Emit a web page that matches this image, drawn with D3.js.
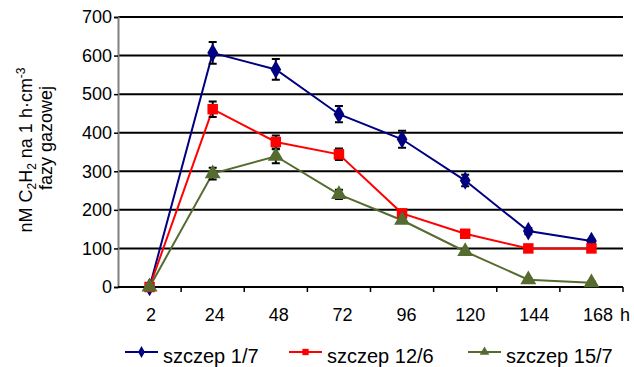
<!DOCTYPE html>
<html>
<head>
<meta charset="utf-8">
<script src="https://cdn.jsdelivr.net/npm/d3@7.9.0/dist/d3.min.js"></script>
<style>
  body { margin: 0; background: #fff; }
  svg { display: block; font-family: Arial, "Liberation Sans", sans-serif; }
</style>
</head>
<body>
<svg id="chart" width="634" height="367"></svg>
<script>
const hours = ['2', '24', '48', '72', '96', '120', '144', '168'];
const yTicks = [0, 100, 200, 300, 400, 500, 600, 700];

const strain17 = [0, 607, 564, 448, 383, 276, 145, 119];
const strain17Err = [0, 28, 27, 21, 22, 15, 8, 5];
const strain126 = [0, 461, 376, 344, 191, 138, 100, 100];
const strain126Err = [0, 20, 17, 15, 6, 5, 4, 4];
const strain157 = [0, 294, 339, 240, 173, 92, 19, 11];
const strain157Err = [0, 15, 18, 12, 6, 5, 3, 3];

const series = [
  { name: 'szczep 1/7', values: strain17, err: strain17Err, color: '#000080', symbol: d3.symbolDiamond },
  { name: 'szczep 12/6', values: strain126, err: strain126Err, color: '#ff0000', symbol: d3.symbolSquare },
  { name: 'szczep 15/7', values: strain157, err: strain157Err, color: '#556b2f', symbol: d3.symbolTriangle }
];

const svg = d3.select('#chart');
const plotL = 118, plotR = 623, plotT = 17, plotB = 287;

const x = d3.scaleBand().domain(hours).range([plotL, plotR]);
const xLabel = d3.scaleBand().domain(hours).range([119, 630]);
const y = d3.scaleLinear().domain([0, 700]).range([plotB, plotT]);
const cx = (h) => x(h) + x.bandwidth() / 2;

// gridlines
svg.append('g')
  .selectAll('line')
  .data(yTicks.filter(d => d > 0))
  .join('line')
  .attr('x1', plotL).attr('x2', plotR)
  .attr('y1', d => y(d)).attr('y2', d => y(d))
  .attr('stroke', '#000').attr('stroke-width', 2);

// y axis
const yAxis = svg.append('g')
  .attr('transform', `translate(${plotL},0)`)
  .call(d3.axisLeft(y).tickValues(yTicks).tickSize(4).tickPadding(2));
yAxis.select('.domain').attr('stroke', '#808080').attr('stroke-width', 2);
yAxis.selectAll('.tick line').attr('stroke', '#000').attr('stroke-width', 1.5);
yAxis.selectAll('text').attr('font-size', 18).attr('fill', '#000');

// x axis line with ticks on band edges
const xg = svg.append('g');
xg.append('line')
  .attr('x1', plotL).attr('x2', plotR)
  .attr('y1', plotB).attr('y2', plotB)
  .attr('stroke', '#000').attr('stroke-width', 2);
xg.selectAll('line.tk')
  .data(hours)
  .join('line')
  .attr('class', 'tk')
  .attr('x1', d => x(d) + x.bandwidth()).attr('x2', d => x(d) + x.bandwidth())
  .attr('y1', plotB).attr('y2', plotB + 5)
  .attr('stroke', '#000').attr('stroke-width', 1.5);
xg.selectAll('text')
  .data(hours)
  .join('text')
  .attr('x', d => xLabel(d) + xLabel.bandwidth() / 2)
  .attr('y', 321)
  .attr('text-anchor', 'middle')
  .attr('font-size', 18)
  .text(d => d);
svg.append('text')
  .attr('x', 620).attr('y', 321)
  .attr('font-size', 18)
  .text('h');

// y axis title
const yt = svg.append('text')
  .attr('transform', 'translate(32,150) rotate(-90)')
  .attr('text-anchor', 'middle')
  .attr('font-size', 18);
yt.append('tspan').attr('x', 0).attr('dy', 0).text('nM C');
yt.append('tspan').attr('font-size', 12).attr('dy', 4).text('2');
yt.append('tspan').attr('dy', -4).text('H');
yt.append('tspan').attr('font-size', 12).attr('dy', 4).text('2');
yt.append('tspan').attr('dy', -4).text(' na 1 h\u00b7cm');
yt.append('tspan').attr('font-size', 12).attr('dy', -7).text('-3');
svg.append('text')
  .attr('transform', 'translate(52,138) rotate(-90)')
  .attr('text-anchor', 'middle')
  .attr('font-size', 18)
  .text('fazy gazowej');

// series
const line = d3.line().x((d, i) => cx(hours[i])).y(d => y(d));

series.forEach(s => {
  svg.append('path')
    .attr('d', line(s.values))
    .attr('fill', 'none')
    .attr('stroke', s.color)
    .attr('stroke-width', 2);
});

series.forEach(s => {
  const g = svg.append('g');
  s.values.forEach((v, i) => {
    const e = s.err[i];
    if (e > 0) {
      const px = cx(hours[i]);
      g.append('path')
        .attr('d', `M${px - 4},${y(v + e)}H${px + 4}M${px},${y(v + e)}V${y(v - e)}M${px - 4},${y(v - e)}H${px + 4}`)
        .attr('stroke', '#000').attr('stroke-width', 2).attr('fill', 'none');
    }
  });
  g.selectAll('path.m')
    .data(s.values)
    .join('path')
    .attr('class', 'm')
    .attr('transform', (d, i) => `translate(${cx(hours[i])},${y(d)})`)
    .attr('d', d3.symbol().type(s.symbol).size(s.symbol === d3.symbolDiamond ? 100 : 110))
    .attr('fill', s.color);
});

// legend
const legendX = [125, 289, 468];
series.forEach((s, i) => {
  const g = svg.append('g').attr('transform', `translate(${legendX[i]},352)`);
  g.append('line').attr('x1', 0).attr('x2', 33).attr('y1', 0).attr('y2', 0)
    .attr('stroke', s.color).attr('stroke-width', 2);
  g.append('path').attr('transform', 'translate(16.5,0)')
    .attr('d', d3.symbol().type(s.symbol).size(40)).attr('fill', s.color);
  g.append('text').attr('x', 38).attr('y', 11).attr('font-size', 20).text(s.name);
});
</script>
</body>
</html>
